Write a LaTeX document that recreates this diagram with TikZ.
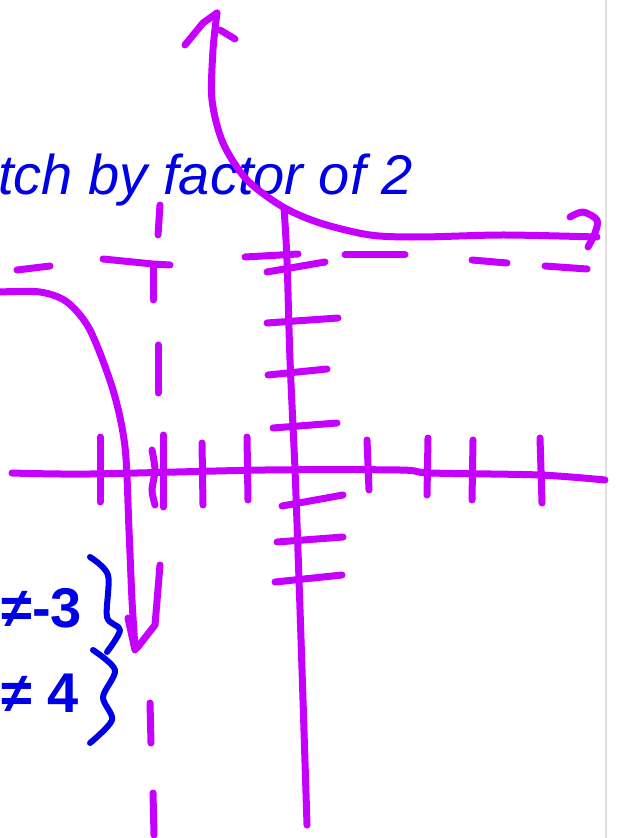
\documentclass[tikz,border=0pt]{standalone}
\usepackage{fontspec}
\setmainfont{Liberation Sans}
\usetikzlibrary{positioning}
\definecolor{penpurple}{RGB}{198,0,255}
\definecolor{penblue}{RGB}{0,0,230}

\begin{document}
\begin{tikzpicture}[x=0.5pt,y=-0.5pt,
  pen/.style={penpurple,line width=3.5pt,line cap=round,line join=round},
  ink/.style={penblue,line width=3pt,line cap=round,line join=round},
  note/.style={penblue,inner sep=0pt,anchor=base west}]
\useasboundingbox (0,0) rectangle (618,838);
\draw[black!12,line width=0.6pt] (606,0) -- (606,838);
% heading
\node[note,font=\itshape\fontsize{28}{32}\selectfont] (title) at (-2,195) {tch by factor of 2};
% axes
\draw[pen] plot[smooth] coordinates {(284,208) (287,260) (290,360) (295,470) (299,580) (303,700) (307,825)};
\draw[pen] plot[smooth] coordinates {(12,473) (90,474) (265,470) (400,470) (430,473) (540,475) (605,480)};
% ticks on y
\foreach \a/\b/\c/\d in {267/272/325/262, 267/323/338/318, 268/375/327/369, 273/428/337/423,
                         282/506/343/495, 277/542/343/537, 275/582/342/575}
  \draw[pen] (\a,\b) -- (\c,\d);
% ticks on x
\foreach \a/\b/\c/\d in {100/437/100/502, 202/443/203/505, 247/437/248/500, 367/440/369/490,
                         428/438/427/495, 473/440/472/500, 540/438/542/503}
  \draw[pen] (\a,\b) -- (\c,\d);
% asymptotes
\foreach \a/\b/\c/\d in {17/270/50/266, 245/257/298/254, 345/255/405/255, 472/260/507/263, 545/266/587/269,
                         160/205/158/235, 158/345/158/393, 163/435/163/507, 150/703/151/743, 153/793/154/835}
  \draw[pen] (\a,\b) -- (\c,\d);
\draw[pen] (103,259) -- (153,264) -- (170,265);
\draw[pen] (153,265) -- (153,300);
\draw[pen] plot[smooth] coordinates {(152,450) (155,470) (152,490) (155,505)};
% right branch
\draw[pen] plot[smooth] coordinates {(597,237) (503,235) (420,237) (370,235) (320,223) (283,207) (247,180) (223,143) (212,100) (213,50) (217,13)};
\draw[pen] (185,45) -- (203,23) -- (217,13);
\draw[pen] (220,30) -- (235,39);
\draw[pen] plot[smooth] coordinates {(570,217) (583,212) (597,220) (595,233) (588,247)};
% left branch
\draw[pen] plot[smooth] coordinates {(0,292) (40,292) (67,302) (90,330) (113,390) (125,447) (129,530) (132,600) (135,648)};
\draw[pen] (128,618) -- (135,650);
\draw[pen] (160,565) -- (155,625) -- (137,648);
% excluded values
\node[note,font=\bfseries\fontsize{28}{32}\selectfont] (neqA) at (1,627) {≠-3};
\node[note,font=\bfseries\fontsize{28}{32}\selectfont] (neqB) at (1,712) {≠ 4};
\draw[ink] plot[smooth] coordinates {(90,557) (108,575) (107,617) (120,630) (107,652)};
\draw[ink] plot[smooth] coordinates {(93,650) (115,670) (103,697) (112,720) (90,743)};
\end{tikzpicture}
\end{document}
